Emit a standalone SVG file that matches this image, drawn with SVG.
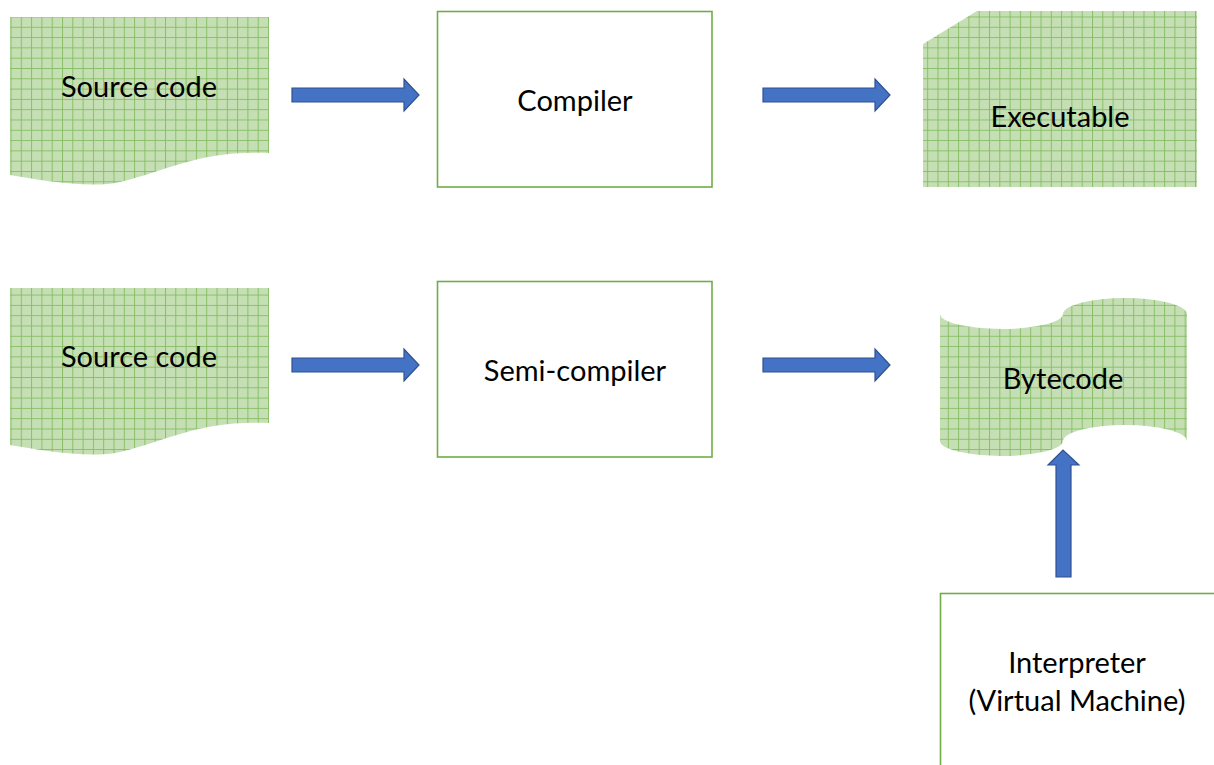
<svg xmlns="http://www.w3.org/2000/svg" width="1214" height="765" viewBox="0 0 1214 765">
  <defs>
    <!-- fine checker texture under a green grid -->
    <pattern id="checker" width="2" height="2" patternUnits="userSpaceOnUse">
      <rect width="2" height="2" fill="#cfe6c0"/>
      <rect width="1" height="1" fill="#bcd9a8"/>
      <rect x="1" y="1" width="1" height="1" fill="#bcd9a8"/>
    </pattern>
    <pattern id="grid" x="10.5" y="16.5" width="10.3" height="10.3" patternUnits="userSpaceOnUse">
      <rect width="10.3" height="10.3" fill="url(#checker)"/>
      <path d="M0.5 0V10.3M0 0.5H10.3" stroke="#89bf67" stroke-width="1" fill="none"/>
    </pattern>
    <style>
      .shape { fill: url(#grid); stroke: none; }
      .box { fill: #ffffff; stroke: #70ad47; stroke-width: 1.6; }
      .label { font-family: Lato, "Open Sans", "Liberation Sans", sans-serif; font-size: 29px; fill: #000000; text-anchor: middle; }
      .arrow { fill: #4472c4; stroke: #2f528f; stroke-width: 1.2; stroke-linejoin: miter; }
    </style>
  </defs>

  <rect width="1214" height="765" fill="#ffffff"/>

  <!-- row 1 -->
  <g id="source1">
    <path class="shape" d="M10 17H269V153C200 150 170 170 120 182C90 189 40 180 10 175Z"/>
    <text class="label" x="139" y="97">Source code</text>
  </g>
  <g id="compiler">
    <rect class="box" x="437.5" y="11.5" width="274.5" height="175.5"/>
    <text class="label" x="575" y="111">Compiler</text>
  </g>
  <g id="executable">
    <path class="shape" d="M977 11H1197V187H923V44Z"/>
    <text class="label" x="1060" y="127">Executable</text>
  </g>

  <!-- row 2 -->
  <g id="source2">
    <path class="shape" d="M10 288H269V423C200 420 170 440 120 452C90 459 40 450 10 445Z"/>
    <text class="label" x="139" y="367">Source code</text>
  </g>
  <g id="semicompiler">
    <rect class="box" x="437.5" y="281.5" width="274.5" height="175.5"/>
    <text class="label" x="575" y="381">Semi-compiler</text>
  </g>
  <g id="bytecode">
    <!-- punched tape: elliptical half-arcs on top and bottom -->
    <path class="shape" d="M940 314A61.5 15 0 0 0 1001.5 329A61.5 15 0 0 0 1063 314A62 16 0 0 1 1125 298A62 16 0 0 1 1187 314V441A62 16 0 0 0 1125 425A62 16 0 0 0 1063 441A61.5 15 0 0 1 1001.5 456A61.5 15 0 0 1 940 441Z"/>
    <text class="label" x="1063" y="389">Bytecode</text>
  </g>

  <!-- row 3 -->
  <g id="interpreter">
    <rect class="box" x="940.5" y="593.5" width="290" height="200"/>
    <text class="label" x="1077" y="673">Interpreter</text>
    <text class="label" x="1077" y="711">(Virtual Machine)</text>
  </g>

  <!-- connectors: block arrows -->
  <g id="connectors">
    <path class="arrow" d="M292 88H404V79L419 95L404 111V102H292Z"/>
    <path class="arrow" d="M763 88H875V79L890 95L875 111V102H763Z"/>
    <path class="arrow" d="M292 358H404V349L419 365L404 381V372H292Z"/>
    <path class="arrow" d="M763 358H875V349L890 365L875 381V372H763Z"/>
    <path class="arrow" d="M1056 577V465H1048L1063 450L1079 465H1071V577Z"/>
  </g>
</svg>
